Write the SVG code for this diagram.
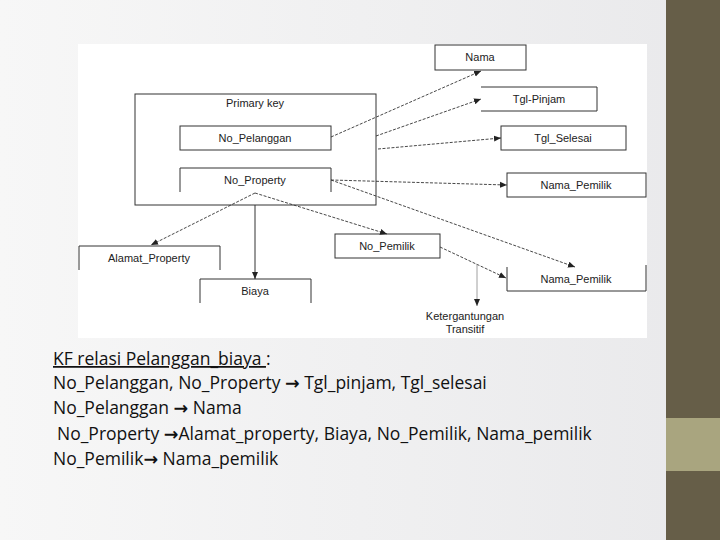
<svg xmlns="http://www.w3.org/2000/svg" width="720" height="540" viewBox="0 0 720 540">
<defs>
<linearGradient id="bg" x1="0" x2="1"><stop offset="0" stop-color="#f7f7f7"/><stop offset="1" stop-color="#e9e9eb"/></linearGradient>
<marker id="ah" markerWidth="8" markerHeight="8" refX="7" refY="4" orient="auto" markerUnits="userSpaceOnUse"><path d="M0,1 L7,4 L0,7 z" fill="#222"/></marker>
</defs>
<style>
.b{fill:none;stroke:#333;stroke-width:1}
.t{font-family:"Liberation Sans",Arial,sans-serif;font-size:11px;fill:#222;text-anchor:middle}
.d{fill:none;stroke:#333;stroke-width:0.9;stroke-dasharray:3,1.5;marker-end:url(#ah)}
.s{fill:none;stroke:#333;stroke-width:1;marker-end:url(#ah)}
.m{font-family:"Open Sans","Liberation Sans",sans-serif;font-size:17.5px;fill:#111}
.a{font-family:"DejaVu Sans",sans-serif;font-weight:bold}
</style>
<rect width="720" height="540" fill="url(#bg)"/>
<rect x="666" y="0" width="54" height="540" fill="#665e48"/>
<rect x="666" y="418" width="54" height="53" fill="#a9a57f"/>
<rect x="78" y="44" width="569" height="294" fill="#fff"/>
<g id="primary"><rect class="b" x="135" y="94" width="241" height="111"/><text class="t" x="255" y="107">Primary key</text></g>
<g id="nama"><rect class="b" x="435" y="45" width="91" height="25"/><text class="t" x="480" y="61">Nama</text></g>
<g id="no_pelanggan"><rect class="b" x="180" y="126" width="151" height="24"/><text class="t" x="255" y="142">No_Pelanggan</text></g>
<g id="no_property"><path class="b" d="M180,192 V168 H331 V192"/><text class="t" x="255" y="184">No_Property</text></g>
<g id="tgl_pinjam"><path class="b" d="M481,87 H597 V111 H481"/><text class="t" x="539" y="103">Tgl-Pinjam</text></g>
<g id="tgl_selesai"><rect class="b" x="501" y="126" width="125" height="24"/><text class="t" x="563" y="142">Tgl_Selesai</text></g>
<g id="nama_pemilik1"><rect class="b" x="507" y="173" width="139" height="24"/><text class="t" x="576" y="189">Nama_Pemilik</text></g>
<g id="no_pemilik"><rect class="b" x="335" y="234" width="105" height="24"/><text class="t" x="387" y="250">No_Pemilik</text></g>
<g id="nama_pemilik2"><path class="b" d="M507,267 V291 H646 V265"/><text class="t" x="576" y="283">Nama_Pemilik</text></g>
<g id="alamat_property"><path class="b" d="M79,270 V246 H220 V270"/><text class="t" x="149" y="262">Alamat_Property</text></g>
<g id="biaya"><path class="b" d="M200,303 V279 H311 V303"/><text class="t" x="255" y="295">Biaya</text></g>
<g id="transitif"><text class="t" x="465" y="320">Ketergantungan</text><text class="t" x="465" y="333">Transitif</text></g>
<g id="connectors">
<line class="d" x1="331" y1="137" x2="481" y2="71"/>
<line class="d" x1="376" y1="136" x2="481" y2="99"/>
<line class="d" x1="378" y1="149" x2="501" y2="138"/>
<line class="d" x1="331" y1="180" x2="507" y2="185"/>
<line class="d" x1="331" y1="180" x2="575" y2="267"/>
<line class="d" x1="255" y1="193" x2="151" y2="245"/>
<line class="d" x1="255" y1="193" x2="387" y2="234"/>
<line class="s" x1="255" y1="205" x2="255" y2="279"/>
<line class="d" x1="440" y1="247" x2="506" y2="278"/>
<line x1="477" y1="264" x2="477" y2="306" stroke="#888" stroke-width="0.8" marker-end="url(#ah)"/>
</g>
<g id="text" xml:space="preserve">
<text class="m" x="53" y="365"><tspan text-decoration="underline">KF relasi Pelanggan_biaya </tspan>:</text>
<text class="m" x="53" y="389">No_Pelanggan, No_Property <tspan class="a">→</tspan> Tgl_pinjam, Tgl_selesai</text>
<text class="m" x="53" y="414">No_Pelanggan  <tspan class="a">→</tspan> Nama</text>
<text class="m" x="57" y="440">No_Property <tspan class="a">→</tspan>Alamat_property,  Biaya, No_Pemilik, Nama_pemilik</text>
<text class="m" x="53" y="465">No_Pemilik<tspan class="a">→</tspan> Nama_pemilik</text>
</g>
</svg>
